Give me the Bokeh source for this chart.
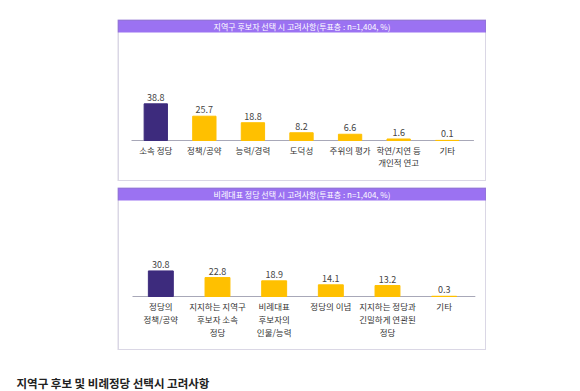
from bokeh.plotting import figure
from bokeh.models import BoxAnnotation, Spacer, ColumnDataSource, Range1d
from bokeh.layouts import column, row
from bokeh.core.properties import value
from bokeh.embed import file_html
from bokeh.resources import INLINE

# ---- data ----
title1 = "지역구 후보자 선택 시 고려사항(투표층 : n=1,404, %)"
cats1 = ["소속 정당", "정책/공약", "능력/경력", "도덕성", "주위의 평가", "학연/지연 등\n개인적 연고", "기타"]
vals1 = [38.8, 25.7, 18.8, 8.2, 6.6, 1.6, 0.1]

title2 = "비례대표 정당 선택 시 고려사항(투표층 : n=1,404, %)"
cats2 = ["정당의\n정책/공약", "지지하는 지역구\n후보자 소속\n정당", "비례대표\n후보자의\n인물/능력", "정당의 이념",
         "지지하는 정당과\n긴밀하게 연관된\n정당", "기타"]
vals2 = [30.8, 22.8, 18.9, 14.1, 13.2, 0.3]

caption = "지역구 후보 및 비례정당 선택시 고려사항"

FONT = "Noto Sans CJK KR"
DARK = "#3d2b7d"
YELLOW = "#ffc000"
HEADER = "#9b72f2"
BORDER = "#857ca8"
AXIS = "#a8a8b8"


def panel(title, cats, vals, w, h, axis_px, slot_left, slot_right, px_per_unit, bar_w, lh):
    n = len(cats)
    slot = (slot_right - slot_left) / n
    x0 = -0.5 - slot_left / slot
    x1 = n - 0.5 + (w - slot_right) / slot
    y0 = -(h - axis_px) / px_per_unit
    y1 = axis_px / px_per_unit
    xs = list(range(n))
    colors = [DARK] + [YELLOW] * (n - 1)
    src = ColumnDataSource(dict(x=xs, top=vals, color=colors, cat=cats,
                                zero=[0] * n, label=[f"{v:.1f}" for v in vals]))
    p = figure(x_range=Range1d(x0, x1), y_range=Range1d(y0, y1), width=w, height=h,
               output_backend="svg", toolbar_location=None,
               x_axis_location=None, y_axis_location=None, min_border=0,
               outline_line_color=None, background_fill_color="white",
               border_fill_color="white")
    p.xgrid.grid_line_color = None
    p.ygrid.grid_line_color = None
    # header bar
    p.add_layout(BoxAnnotation(top=y1, bottom=y1 - 13 / px_per_unit,
                               fill_color=HEADER, fill_alpha=1, line_color=None,
                               level="underlay"))
    p.text(x=[(x0 + x1) / 2], y=[y1], text=[title],
           y_offset=7, text_align="center", text_baseline="middle",
           text_font=value(FONT), text_font_size="8px", text_color="white")
    # border
    p.add_layout(BoxAnnotation(left=x0, right=x1, top=y1, bottom=y0,
                               fill_alpha=0, line_color=BORDER, line_width=3))
    # axis line
    p.segment(x0=[-0.5], y0=[0], x1=[n - 0.5 + 0.05], y1=[0], line_color=AXIS, line_width=1)
    # bars
    p.vbar(x="x", top="top", width=bar_w, color="color", source=src)
    p.text(x="x", y="top", text="label", source=src, text_align="center",
           text_baseline="bottom", y_offset=-3, text_font=value(FONT),
           text_font_size="9px", text_color="#444444")
    # category labels
    p.text(x="x", y="zero", text="cat", source=src, text_align="center",
           text_baseline="top", y_offset=3, text_font=value(FONT),
           text_font_size="8.5px", text_color="#333333", text_line_height=lh)
    return p


p1 = panel(title1, cats1, vals1, 369, 162, 121, 14, 354, 0.945, 0.48, 1.0)
p2 = panel(title2, cats2, vals2, 369, 163, 109, 15, 355, 0.83, 0.44, 1.1)

cap = figure(width=580, height=41, x_range=Range1d(0, 580), y_range=Range1d(41, 0),
             output_backend="svg", toolbar_location=None,
             x_axis_location=None, y_axis_location=None,
             min_border=0, outline_line_color=None)
cap.xgrid.grid_line_color = None
cap.ygrid.grid_line_color = None
cap.text(x=[16], y=[32], text=[caption], text_font=value(FONT), text_font_size="11.5px",
         text_font_style="bold", text_color="#222222", text_baseline="middle")

panels = column(Spacer(height=19, width=369), p1, Spacer(height=6, width=369), p2, spacing=0)
top = row(Spacer(width=117, height=350), panels, spacing=0)
layout = column(top, cap, spacing=0)

open("out.html", "w").write(file_html(layout, INLINE))
